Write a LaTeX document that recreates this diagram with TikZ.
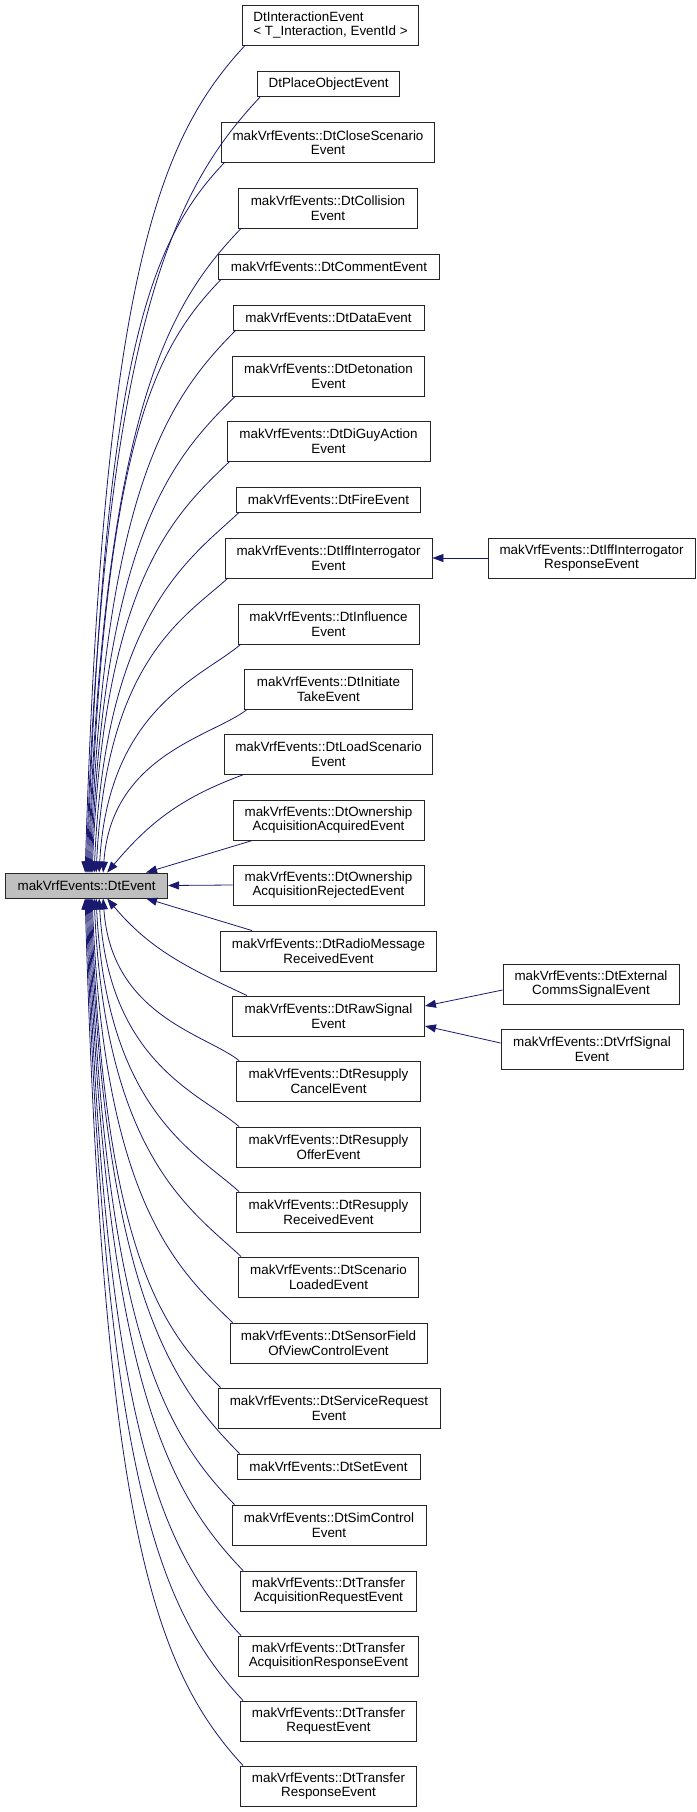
\documentclass[tikz,border=0pt]{standalone}
\usepackage{fontspec}
\setmainfont{Liberation Sans}
\usetikzlibrary{arrows.meta,calc}
\definecolor{edgec}{HTML}{191970}
\begin{document}
\begin{tikzpicture}[x=1pt,y=-1pt,
  box/.style={draw=black!85,line width=0.9pt,fill=white,inner sep=0pt,align=center,
    font=\fontsize{13.4}{14.5}\selectfont,minimum height=25pt},
  two/.style={minimum height=40pt},
  edge/.style={draw=edgec,line width=0.8pt,{Triangle[length=11pt,width=8pt]}-}]
\useasboundingbox (0,0) rectangle (696,1812);
\node[box,fill=black!25,minimum width=162pt] (main) at (86.6,885.5) {makVrfEvents::DtEvent};
\node[box,two,minimum width=176pt,align=left] (c1) at (330.5,25) {DtInteractionEvent\\\textless{} T\_Interaction, EventId \textgreater};
\node[box,minimum width=142pt] (c2) at (328.6,84) {DtPlaceObjectEvent};
\node[box,two,minimum width=213pt] (c3) at (328,142.5) {makVrfEvents::DtCloseScenario\\Event};
\node[box,two,minimum width=179pt] (c4) at (328,208) {makVrfEvents::DtCollision\\Event};
\node[box,minimum width=221pt] (c5) at (329,266.5) {makVrfEvents::DtCommentEvent};
\node[box,minimum width=191pt] (c6) at (328.5,317.5) {makVrfEvents::DtDataEvent};
\node[box,two,minimum width=192pt] (c7) at (328.5,376) {makVrfEvents::DtDetonation\\Event};
\node[box,two,minimum width=203pt] (c8) at (328.5,441) {makVrfEvents::DtDiGuyAction\\Event};
\node[box,minimum width=184pt] (c9) at (328.5,499.5) {makVrfEvents::DtFireEvent};
\node[box,two,minimum width=207pt] (c10) at (328.5,558) {makVrfEvents::DtIffInterrogator\\Event};
\node[box,two,minimum width=207pt] (c10b) at (591.5,558) {makVrfEvents::DtIffInterrogator\\ResponseEvent};
\node[box,two,minimum width=181pt] (c11) at (328.5,624) {makVrfEvents::DtInfluence\\Event};
\node[box,two,minimum width=168pt] (c12) at (328.5,689) {makVrfEvents::DtInitiate\\TakeEvent};
\node[box,two,minimum width=208pt] (c13) at (328.5,754) {makVrfEvents::DtLoadScenario\\Event};
\node[box,two,minimum width=191pt] (c14) at (328.5,820) {makVrfEvents::DtOwnership\\AcquisitionAcquiredEvent};
\node[box,two,minimum width=191pt] (c15) at (328.5,885) {makVrfEvents::DtOwnership\\AcquisitionRejectedEvent};
\node[box,two,minimum width=216pt] (c16) at (328.5,951) {makVrfEvents::DtRadioMessage\\ReceivedEvent};
\node[box,two,minimum width=192pt] (c17) at (328.5,1016) {makVrfEvents::DtRawSignal\\Event};
\node[box,two,minimum width=176pt] (c17a) at (591,984) {makVrfEvents::DtExternal\\CommsSignalEvent};
\node[box,two,minimum width=182pt] (c17b) at (592,1049) {makVrfEvents::DtVrfSignal\\Event};
\node[box,two,minimum width=184pt] (c18) at (328.5,1081) {makVrfEvents::DtResupply\\CancelEvent};
\node[box,two,minimum width=184pt] (c19) at (328.5,1147) {makVrfEvents::DtResupply\\OfferEvent};
\node[box,two,minimum width=184pt] (c20) at (328.5,1212) {makVrfEvents::DtResupply\\ReceivedEvent};
\node[box,two,minimum width=180pt] (c21) at (328.5,1277) {makVrfEvents::DtScenario\\LoadedEvent};
\node[box,two,minimum width=197pt] (c22) at (328.5,1343) {makVrfEvents::DtSensorField\\OfViewControlEvent};
\node[box,two,minimum width=222pt] (c23) at (329,1408) {makVrfEvents::DtServiceRequest\\Event};
\node[box,minimum width=183pt] (c24) at (328.5,1466.5) {makVrfEvents::DtSetEvent};
\node[box,two,minimum width=194pt] (c25) at (329,1525) {makVrfEvents::DtSimControl\\Event};
\node[box,two,minimum width=176pt] (c26) at (328.5,1591) {makVrfEvents::DtTransfer\\AcquisitionRequestEvent};
\node[box,two,minimum width=180pt] (c27) at (328.5,1656) {makVrfEvents::DtTransfer\\AcquisitionResponseEvent};
\node[box,two,minimum width=176pt] (c28) at (328.5,1721) {makVrfEvents::DtTransfer\\RequestEvent};
\node[box,two,minimum width=176pt] (c29) at (328.5,1786) {makVrfEvents::DtTransfer\\ResponseEvent};
% upper children
\foreach \c/\dx/\ox/\d in {c1/80/18/828,c2/81/18/776,c3/82/17/710,c4/83/16/645,c5/84/15/594,c6/85/14/543,c7/86/13/477,c8/87/12/412,c9/89/11/361,c10/91/10/295,c11/94/9/229,c12/98/8/164}
  \draw[edge] ($(main.north west)+(\dx,0)$) .. controls +(\ox,{-0.72*\d}) and +({-0.08*\d-20},{0.1*\d+10}) .. ($(\c.south west)+(3,0)$);
\draw[edge] ($(main.north west)+(102,0)$) to[out=50,in=200] ($(c13.south west)+(20,0)$);
\draw[edge] ($(main.north east)+(-22,0)$) -- ($(c14.south west)+(20,0)$);
\draw[edge] (main.east) -- (c15.west);
\draw[edge] ($(main.south east)+(-22,0)$) -- ($(c16.north west)+(32,0)$);
\draw[edge] ($(main.south west)+(102,0)$) to[out=-50,in=155] ($(c17.north west)+(15,0)$);
% lower children
\foreach \c/\dx/\ox/\d in {c18/98/8/163,c19/94/9/229,c20/91/10/294,c21/89/11/359,c22/87/12/425,c23/86/13/490,c24/85/14/556,c25/84/15/607,c26/83/16/673,c27/82/17/738,c28/81/18/803,c29/80/18/868}
  \draw[edge] ($(main.south west)+(\dx,0)$) .. controls +(\ox,{0.72*\d}) and +({-0.08*\d-20},{-0.1*\d-10}) .. ($(\c.north west)+(3,0)$);
% second level
\draw[edge] (c10.east) -- (c10b.west);
\draw[edge] ($(c17.east)+(0,-10)$) -- ($(c17a.west)+(0,6)$);
\draw[edge] ($(c17.east)+(0,10)$) -- ($(c17b.west)+(0,-6)$);
\end{tikzpicture}
\end{document}
